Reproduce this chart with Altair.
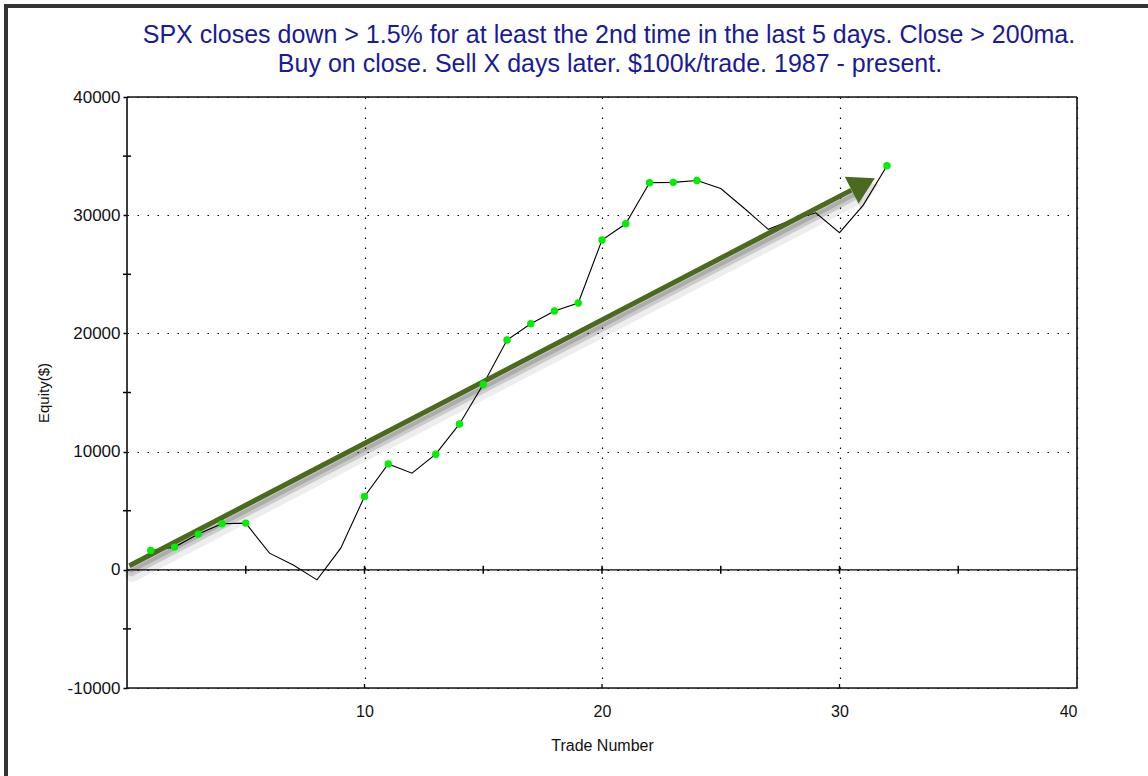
import altair as alt
import pandas as pd

# ---- data ----
trade = list(range(1, 33))
equity = [1630, 1920, 3020, 3890, 3950, 1410, 400, -850, 1830, 6200,
          8960, 8170, 9780, 12340, 15700, 19440, 20820, 21890, 22570, 27900,
          29270, 32750, 32780, 32940, 32260, 30570, 28800, 29600, 30200, 28520,
          30850, 34180]

y_ticks = [-10000, 0, 10000, 20000, 30000, 40000]
y_minor = [-5000, 5000, 15000, 25000, 35000]
x_labels = [10, 20, 30, 40]
x_zero_ticks = [5, 10, 15, 20, 25, 30, 35]
x_frame_ticks = [10, 20, 30]

arrow_x = [0.1, 30.5]
arrow_y = [340, 32120]
head_x = [31.0]
head_y = [32630]

title_lines = ["SPX closes down > 1.5% for at least the 2nd time in the last 5 days. Close > 200ma.",
               "Buy on close. Sell X days later. $100k/trade. 1987 - present."]

# ---- tables ----
df = pd.DataFrame({"trade": trade, "equity": equity})
prev_max = df["equity"].cummax().shift(1).fillna(0).clip(lower=0)
df["newhigh"] = df["equity"] >= prev_max
arrow_df = pd.DataFrame({"x": arrow_x, "y": arrow_y})
head_df = pd.DataFrame({"x": head_x, "y": head_y})
minor_df = pd.DataFrame({"v": y_minor})
zero_ticks_df = pd.DataFrame({"v": x_zero_ticks})
frame_ticks_df = pd.DataFrame({"v": x_frame_ticks})
one = pd.DataFrame({"v": [0]})

W, H = 950, 591
FONT = "Liberation Sans"
TXT = "#111"
TITLE_COLOR = "#1a1a96"

xs = alt.Scale(domain=[0, 40], nice=False, zero=False)
ys = alt.Scale(domain=[-10000, 40000], nice=False, zero=False)

X = alt.X("trade:Q", scale=xs,
          axis=alt.Axis(values=x_labels, title="Trade Number", grid=True,
                        gridDash=[1.5, 8.5], gridColor="#000", gridWidth=1.2,
                        domain=False, ticks=False, labelPadding=15,
                        labelFontSize=16, labelColor=TXT, labelFont=FONT,
                        titleFont=FONT, titleFontSize=16, titleFontWeight="normal",
                        titleColor=TXT, titlePadding=18))
Y = alt.Y("equity:Q", scale=ys,
          axis=alt.Axis(values=y_ticks, labelExpr="'' + datum.value", title="Equity($)",
                        grid=True, gridDash=[1.5, 8.5], gridColor="#000", gridWidth=1.2,
                        domain=False, tickSize=4, tickColor="#000", tickWidth=1.5,
                        labelPadding=3, labelFontSize=17, labelColor=TXT,
                        labelFont=FONT, titleFont=FONT, titleFontSize=15,
                        titleFontWeight="normal", titleColor=TXT,
                        titleX=-84, titleY=H / 2, titleAngle=270,
                        titleAlign="center", titleBaseline="middle"))

base = alt.Chart(df)

zero_line = alt.Chart(one).mark_rule(color="#000", strokeWidth=1.3).encode(
    y=alt.datum(0, scale=ys))

zero_ticks = alt.Chart(zero_ticks_df).mark_rule(color="#000", strokeWidth=1.5,
                                                yOffset=-4, y2Offset=4).encode(
    x=alt.X("v:Q", scale=xs), y=alt.datum(0, scale=ys), y2=alt.datum(0))

frame_ticks = alt.Chart(frame_ticks_df).mark_rule(color="#000", strokeWidth=1.3,
                                                  y2Offset=-4).encode(
    x=alt.X("v:Q", scale=xs), y=alt.datum(-10000, scale=ys), y2=alt.datum(-10000))

minor_ticks = alt.Chart(minor_df).mark_rule(color="#000", strokeWidth=1.5).encode(
    y=alt.Y("v:Q", scale=ys), x=alt.value(-4), x2=alt.value(4))

# plot frame
frame_top = alt.Chart(one).mark_rule(color="#111", strokeWidth=1.6).encode(
    x=alt.value(0), x2=alt.value(W), y=alt.value(0))
frame_bottom = alt.Chart(one).mark_rule(color="#111", strokeWidth=1.6).encode(
    x=alt.value(0), x2=alt.value(W), y=alt.value(H))
frame_left = alt.Chart(one).mark_rule(color="#111", strokeWidth=1.6).encode(
    y=alt.value(0), y2=alt.value(H), x=alt.value(0))
frame_right = alt.Chart(one).mark_rule(color="#111", strokeWidth=1.6).encode(
    y=alt.value(0), y2=alt.value(H), x=alt.value(W))

line = base.mark_line(color="#000", strokeWidth=1.1).encode(x=X, y=Y)
pts = base.transform_filter("datum.newhigh").mark_circle(
    color="#00ee00", opacity=1, size=55).encode(
    x=alt.X("trade:Q", scale=xs), y=alt.Y("equity:Q", scale=ys))

shadow1 = alt.Chart(arrow_df).mark_line(color="#000", strokeWidth=16, opacity=0.07,
                                        xOffset=3, yOffset=8, strokeCap="round").encode(
    x=alt.X("x:Q", scale=xs), y=alt.Y("y:Q", scale=ys))
shadow2 = alt.Chart(arrow_df).mark_line(color="#000", strokeWidth=9, opacity=0.14,
                                        xOffset=2, yOffset=6, strokeCap="round").encode(
    x=alt.X("x:Q", scale=xs), y=alt.Y("y:Q", scale=ys))
shadow3 = alt.Chart(arrow_df).mark_line(color="#000", strokeWidth=4, opacity=0.15,
                                        xOffset=2, yOffset=5, strokeCap="round").encode(
    x=alt.X("x:Q", scale=xs), y=alt.Y("y:Q", scale=ys))
shaft = alt.Chart(arrow_df).mark_line(color="#4a6b1d", strokeWidth=5).encode(
    x=alt.X("x:Q", scale=xs), y=alt.Y("y:Q", scale=ys))
head_shadow = alt.Chart(head_df).mark_point(shape="triangle-right", filled=True, color="#000",
                                            opacity=0.12, size=950, angle=332.6,
                                            xOffset=3, yOffset=6).encode(
    x=alt.X("x:Q", scale=xs), y=alt.Y("y:Q", scale=ys))
head = alt.Chart(head_df).mark_point(shape="triangle-right", filled=True, color="#4a6b1d",
                                     opacity=1, size=900, angle=332.6).encode(
    x=alt.X("x:Q", scale=xs), y=alt.Y("y:Q", scale=ys))

# title as text
t1 = alt.Chart(one).mark_text(text=title_lines[0], font=FONT, fontSize=25, color=TITLE_COLOR,
                              align="center", baseline="alphabetic").encode(
    x=alt.value(W / 2 + 7), y=alt.value(-54))
t2 = alt.Chart(one).mark_text(text=title_lines[1], font=FONT, fontSize=25, color=TITLE_COLOR,
                              align="center", baseline="alphabetic").encode(
    x=alt.value(W / 2 + 8), y=alt.value(-25))

# window border (decoration)
border_left = alt.Chart(one).mark_rule(color="#333", strokeWidth=4).encode(
    x=alt.value(-121), y=alt.value(-93), y2=alt.value(H + 100))
border_top = alt.Chart(one).mark_rule(color="#333", strokeWidth=4).encode(
    y=alt.value(-91), x=alt.value(-123), x2=alt.value(W + 80))

chart = alt.layer(
    line, zero_line, zero_ticks, frame_ticks, minor_ticks,
    frame_top, frame_bottom, frame_left, frame_right,
    shadow1, shadow2, shadow3, head_shadow, shaft, head, pts,
    t1, t2, border_left, border_top
).properties(
    width=W, height=H,
    autosize=alt.AutoSizeParams(type="none"),
    padding={"left": 127, "top": 97, "right": 71, "bottom": 88},
).configure_view(stroke=None).configure(background="white")

chart.save("out.html", embed_options={"renderer": "svg", "actions": False})
